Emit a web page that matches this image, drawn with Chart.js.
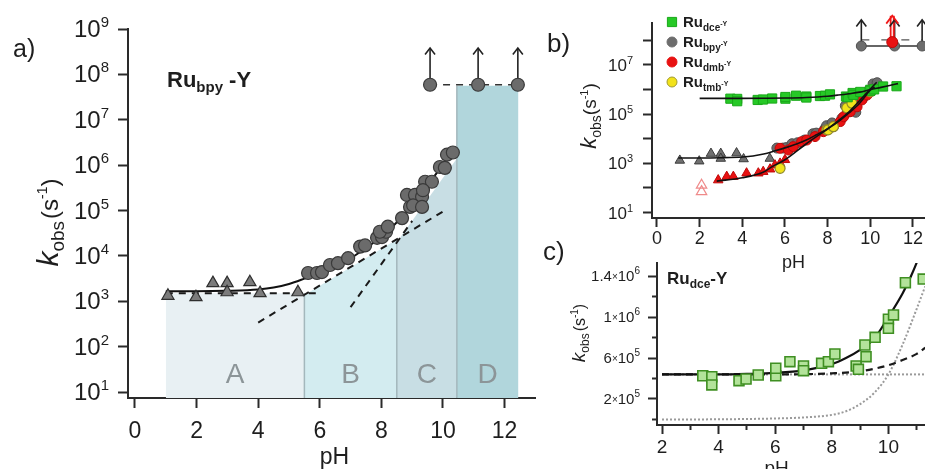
<!DOCTYPE html>
<html>
<head>
<meta charset="utf-8">
<script src="https://cdn.jsdelivr.net/npm/chart.js@4.4.1/dist/chart.umd.min.js"></script>
<style>
  html, body { margin: 0; padding: 0; background: #fff; overflow: hidden; }
  #wrap { position: relative; width: 925px; height: 469px; }
  canvas { position: absolute; left: 0; top: 0; }
</style>
</head>
<body>
<div id="wrap">
  <canvas id="pa" width="925" height="469"></canvas>
  <canvas id="pb" width="925" height="469"></canvas>
  <canvas id="pc" width="925" height="469"></canvas>
</div>
<script>
// ---------- Ru(bpy)-Y : rate constants vs pH ----------
const bpyTriPH  = [1.07, 1.98, 2.53, 2.99, 2.99, 3.73, 4.06, 5.29];
const bpyTriK   = [1.32e3, 1.23e3, 2.51e3, 2.51e3, 1.58e3, 2.63e3, 1.51e3, 1.58e3];
const bpyCircPH = [5.62, 5.91, 6.07, 6.33, 6.59, 6.92, 7.31, 7.47, 7.86, 8.02, 8.15, 7.95, 8.21, 8.67,
                   8.93, 8.83, 9.09, 9.32, 9.03, 9.32, 9.42, 9.64, 9.35, 9.90, 10.06, 10.13, 10.32];
const bpyCircK  = [4.2e3, 4.2e3, 4.4e3, 6.3e3, 6.9e3, 8.9e3, 1.6e4, 1.7e4, 2.5e4, 2.6e4, 3.4e4, 3.4e4, 4.4e4, 6.8e4,
                   1.2e5, 2.2e5, 2.2e5, 2.0e5, 1.3e5, 1.2e5, 4.3e5, 4.3e5, 2.8e5, 9.1e5, 8.7e5, 1.7e6, 1.9e6];
// lower limits (k larger than this value)
const bpyLimitPH = [9.58, 11.14, 12.43];
const bpyLimitK  = 5.9e7;
const arrowTopA  = 3.8e8;
const arrowTopB  = 6.8e8;
// kinetic model for Ru(bpy)-Y
const bpyFitPH = [1.0, 2, 3, 4, 4.5, 5, 5.5, 6, 6.5, 7, 7.5, 8, 8.5, 9, 9.5, 10, 10.3];
const bpyFitK  = [1.66e3, 1.66e3, 1.70e3, 1.82e3, 2.0e3, 2.4e3, 3.16e3, 4.27e3, 6.0e3, 8.9e3, 1.5e4, 2.6e4,
                  5.5e4, 1.26e5, 3.55e5, 1.05e6, 2.0e6];
// limiting pathways (dashed)
const flatPH = [1.0, 6.0],  flatK = [1.5e3, 1.5e3];
const slowPH = [4.0, 10.0], slowK = [3.4e2, 9.5e4];
const fastPH = [7.0, 9.0],  fastK = [7.4e2, 5.9e4];
// pH regions A-D
const regionNames   = ['A', 'B', 'C', 'D'];
const regionEdgesPH = [1.0, 5.5, 8.5, 10.45, 12.45];
const regionTopK    = [[1.5e3, 1.5e3], [1.38e3, 2.3e4], [2.0e4, 1.4e6], [5.6e7, 5.6e7]];

// ---------- Ru(dmb)-Y ----------
const dmbTriPH  = [2.87, 3.27, 3.58, 4.20, 4.75, 4.98, 5.30, 5.53, 5.77, 6.0];
const dmbTriK   = [2.1e2, 2.9e2, 2.9e2, 4.0e2, 4.0e2, 4.6e2, 5.8e2, 8.5e2, 1.0e3, 1.4e3];
const dmbCircPH = [5.77, 6.16, 6.39, 6.78, 7.02, 7.41, 7.80, 8.27, 8.59, 8.75, 9.06, 9.38, 9.61, 9.85, 10.0];
const dmbCircK  = [4.1e3, 3.5e3, 4.8e3, 7.6e3, 8.9e3, 1.23e4, 1.95e4, 3.1e4, 5.0e4, 7.9e4, 1.26e5, 2.0e5,
                   3.8e5, 6.0e5, 9.5e5];
const dmbOpenPH = [2.09, 2.09];
const dmbOpenK  = [1.3e2, 7.1e1];
const dmbFitPH  = [2.8, 4, 5, 5.4, 6, 7, 8, 8.6, 9, 9.5, 10, 10.2];
const dmbFitK   = [1.9e2, 2.6e2, 4.5e2, 7.4e2, 1.4e3, 6.3e3, 2.5e4, 5.8e4, 1.12e5, 2.8e5, 9.5e5, 1.3e6];
const dmbLimitPH = [11.03];
const dmbLimitK  = [8.5e7];
const dmbLimitTopK = 1.0e9;

// ---------- Ru(tmb)-Y ----------
const tmbPH = [5.77, 7.96, 8.02, 8.27, 8.9, 9.14, 10.0];
const tmbK  = [6.3e2, 2.3e4, 2.3e4, 3.1e4, 1.8e5, 2.8e5, 8.1e5];

// ---------- Ru(dce)-Y ----------
const dcePH = [3.44, 3.76, 3.76, 4.72, 4.97, 5.40, 6.02, 6.02, 6.52, 7.0, 7.0, 7.64, 7.88, 8.11,
               8.86, 8.94, 9.17, 9.21, 9.53, 10.0, 10.0, 10.18, 10.6, 11.23];
const dceK  = [4.27e5, 4.18e5, 3.37e5, 3.79e5, 3.95e5, 4.34e5, 4.27e5, 5.0e5, 5.64e5, 5.22e5, 4.76e5, 5.48e5,
               5.64e5, 6.39e5, 5.22e5, 4.90e5, 7.27e5, 6.13e5, 8.02e5, 9.78e5, 8.9e5, 10.2e5, 13.35e5, 13.7e5];
const dceFitPH = [2, 4, 5, 6, 7, 8, 8.5, 9, 9.5, 10, 10.5, 10.8, 11.0, 11.3];
const dceFitK  = [4.4e5, 4.4e5, 4.45e5, 4.55e5, 4.8e5, 5.4e5, 6.0e5, 6.8e5, 7.9e5, 10.0e5, 12.3e5, 14.0e5, 15.3e5, 17.5e5];
const dceDashPH = [2, 6, 7, 8, 9, 9.5, 10, 10.5, 11, 11.3];
const dceDashK  = [4.4e5, 4.4e5, 4.42e5, 4.5e5, 4.7e5, 4.95e5, 5.3e5, 5.8e5, 6.4e5, 7.0e5];
const dceFlatPH = [2, 11.3];
const dceFlatK  = [4.4e5, 4.4e5];
const dceRisePH = [2, 4, 6, 7, 8, 8.5, 9, 9.5, 10, 10.5, 11, 11.3];
const dceRiseK  = [0, 0.02e5, 0.1e5, 0.2e5, 0.45e5, 0.8e5, 1.5e5, 2.6e5, 4.4e5, 7.3e5, 10.8e5, 13e5];

// ---------- axis ticks ----------
const aXTicks = [0, 2, 4, 6, 8, 10, 12];
const aYTicks = [1e1, 1e2, 1e3, 1e4, 1e5, 1e6, 1e7, 1e8, 1e9];
const bXTicks = [0, 2, 4, 6, 8, 10, 12];
const bYTicks = [1e1, 1e2, 1e3, 1e4, 1e5, 1e6, 1e7, 1e8];
const bYLabelled = [1e1, 1e3, 1e5, 1e7];
const cXMajor = [2, 4, 6, 8, 10];
const cXMinor = [3, 5, 7, 9, 11];
const cYMajor = [2e5, 6e5, 1e6, 1.4e6];
const cYMinor = [0, 4e5, 8e5, 1.2e6];

// ---------- helpers ----------
const FONT = '"Liberation Sans", Arial, Helvetica, sans-serif';
const AXIS = '#2a2a2a';
const TEXT = '#1e1e1e';

function pts(xs, ys) { return xs.map((x, i) => ({ x, y: Array.isArray(ys) ? ys[i] : ys })); }
function P(t, size, o) { return Object.assign({ t, size }, o || {}); }
function fontStr(p) { return (p.italic ? 'italic ' : '') + (p.bold ? 'bold ' : '') + p.size + 'px ' + FONT; }

function drawRich(ctx, x, y, parts, align, angle, color) {
  ctx.save();
  ctx.translate(x, y);
  if (angle) ctx.rotate(angle);
  ctx.textBaseline = 'alphabetic';
  ctx.textAlign = 'left';
  let total = 0;
  const widths = parts.map(p => {
    ctx.font = fontStr(p);
    const w = ctx.measureText(p.t).width + (p.gap || 0);
    total += w;
    return w;
  });
  let cx = align === 'right' ? -total : (align === 'center' ? -total / 2 : 0);
  parts.forEach((p, i) => {
    ctx.font = fontStr(p);
    ctx.fillStyle = p.color || color || TEXT;
    ctx.fillText(p.t, cx, p.dy || 0);
    cx += widths[i];
  });
  ctx.restore();
}

function axis(type, position, min, max, tickVals, tickLen, showBorder) {
  const horizontal = position === 'bottom';
  return {
    type, position, min, max,
    axis: horizontal ? 'x' : 'y',
    afterBuildTicks: s => { s.ticks = tickVals.map(v => ({ value: v })); },
    afterFit: s => { if (horizontal) s.height = 0; else s.width = 0; },
    ticks: { display: false },
    border: { display: showBorder !== false, color: AXIS, width: 2 },
    grid: { display: true, drawOnChartArea: false, drawTicks: true, tickLength: tickLen,
            tickColor: AXIS, tickWidth: 2 }
  };
}

// arrow heads on the last point of datasets flagged with arrowHead
const arrowHeads = {
  id: 'arrowHeads',
  afterDatasetsDraw(chart) {
    const ctx = chart.ctx;
    chart.data.datasets.forEach((ds, i) => {
      if (!ds.arrowHead) return;
      const meta = chart.getDatasetMeta(i);
      const p = meta.data[meta.data.length - 1];
      const w = ds.arrowSize || 5;
      ctx.save();
      ctx.strokeStyle = ds.arrowHead;
      ctx.lineWidth = ds.arrowWidth || 1.6;
      ctx.beginPath();
      ctx.moveTo(p.x - w, p.y + w * 1.3);
      ctx.lineTo(p.x, p.y);
      ctx.lineTo(p.x + w, p.y + w * 1.3);
      ctx.stroke();
      ctx.restore();
    });
  }
};

const baseOpts = (padding, scales) => ({
  responsive: false,
  animation: false,
  devicePixelRatio: 1,
  events: [],
  layout: { padding, autoPadding: false },
  plugins: { legend: { display: false }, tooltip: { enabled: false } },
  scales
});

function lineDS(xs, ys, color, width, dash, order, extra) {
  return Object.assign({
    data: pts(xs, ys), showLine: true, borderColor: color, borderWidth: width,
    borderDash: dash || [], pointRadius: 0, fill: false, order, tension: 0
  }, extra || {});
}
function markDS(xs, ys, style, r, bg, border, bw, order) {
  return {
    data: pts(xs, ys), showLine: false, pointStyle: style, pointRadius: r,
    pointBackgroundColor: bg, pointBorderColor: border, pointBorderWidth: bw, order
  };
}

// ================= panel a =================
const A_YMIN = 7.38;
const regionFill = ['#e8f0f3', '#d3ecf0', '#c8dee4', '#b1d6dc'];
const aDatasets = [];
regionNames.forEach((n, i) => {
  aDatasets.push({
    data: [{ x: regionEdgesPH[i], y: regionTopK[i][0] }, { x: regionEdgesPH[i + 1], y: regionTopK[i][1] }],
    showLine: true, fill: 'start', backgroundColor: regionFill[i], borderWidth: 0, pointRadius: 0, order: 30
  });
});
[1, 2, 3].forEach(i => {
  const top = Math.max(regionTopK[i - 1][1], regionTopK[i][0]);
  aDatasets.push(lineDS([regionEdgesPH[i], regionEdgesPH[i]], [A_YMIN, top], '#a3b7bc', 1.5, [], 25));
});
aDatasets.push(lineDS(flatPH, flatK, '#1a1a1a', 2, [7, 6], 10));
aDatasets.push(lineDS(slowPH, slowK, '#1a1a1a', 2, [7, 6], 10));
aDatasets.push(lineDS(fastPH, fastK, '#1a1a1a', 2, [7, 6], 10));
aDatasets.push(lineDS(bpyFitPH, bpyFitK, '#111', 2, [], 8, { cubicInterpolationMode: 'monotone' }));
bpyLimitPH.forEach(x => {
  aDatasets.push(lineDS([x, x], [bpyLimitK, arrowTopA], '#222', 1.6, [], 6, { arrowHead: '#222', clip: false }));
});
aDatasets.push({
  data: pts(bpyLimitPH, bpyLimitK), showLine: true, borderColor: '#333', borderWidth: 1.6, borderDash: [7, 6],
  pointStyle: 'circle', pointRadius: 6.5, pointBackgroundColor: '#6b6b6b', pointBorderColor: '#3a3a3a',
  pointBorderWidth: 1.2, order: 3
});
aDatasets.push(markDS(bpyTriPH, bpyTriK, 'triangle', 7, '#7b7b7b', '#2f2f2f', 1.2, 2));
aDatasets.push(markDS(bpyCircPH, bpyCircK, 'circle', 6.5, '#6b6b6b', '#3a3a3a', 1.2, 2));

const panelAText = {
  id: 'panelAText',
  afterDraw(chart) {
    const { ctx, chartArea: ca, scales: { x, y } } = chart;
    aYTicks.forEach(v => {
      const py = y.getPixelForValue(v);
      drawRich(ctx, ca.left - 19, py + 8, [P('10', 24), P(String(Math.round(Math.log10(v))), 15, { dy: -10 })], 'right');
    });
    aXTicks.forEach(v => drawRich(ctx, x.getPixelForValue(v), ca.bottom + 40, [P(String(v), 23)], 'center'));
    drawRich(ctx, (ca.left + ca.right) / 2 + 3, ca.bottom + 66, [P('pH', 23)], 'center');
    drawRich(ctx, 58, (ca.top + ca.bottom) / 2 + 9,
      [P('k', 30, { italic: true }), P('obs', 19, { dy: 6, gap: 2 }), P('(s', 24), P('-1', 14, { dy: -11 }), P(')', 24)],
      'center', -Math.PI / 2);
    drawRich(ctx, 13, 57, [P('a)', 25)], 'left');
    drawRich(ctx, ca.left + 39, 87, [P('Ru', 22, { bold: true }), P('bpy', 15, { bold: true, dy: 5 }), P(' -Y', 22, { bold: true })], 'left');
    regionNames.forEach((n, i) => {
      const cx = x.getPixelForValue((regionEdgesPH[i] + regionEdgesPH[i + 1]) / 2);
      drawRich(ctx, cx, ca.bottom - 15, [P(n, 28)], 'center', 0, '#8c9598');
    });
  }
};

new Chart(document.getElementById('pa'), {
  type: 'scatter',
  data: { datasets: aDatasets },
  options: baseOpts({ left: 128, top: 29, right: 390, bottom: 71 }, {
    x: axis('linear', 'bottom', -0.227, 12.987, aXTicks, 10),
    y: axis('logarithmic', 'left', A_YMIN, 1e9, aYTicks, 10)
  }),
  plugins: [arrowHeads, panelAText]
});

// ================= panel b =================
const bDatasets = [];
bDatasets.push(lineDS(dceFitPH, dceFitK, '#111', 1.6, [], 1, { cubicInterpolationMode: 'monotone' }));
bDatasets.push(lineDS(bpyFitPH, bpyFitK, '#111', 1.6, [], 1, { cubicInterpolationMode: 'monotone' }));
bDatasets.push(lineDS(dmbFitPH, dmbFitK, '#111', 1.6, [], 1, { cubicInterpolationMode: 'monotone' }));
bDatasets.push(markDS(dcePH, dceK, 'rect', 6.5, '#26c926', '#1aa81a', 1, 2));
bDatasets.push(markDS(tmbPH, tmbK, 'circle', 5, '#f2e21a', '#8f8a2a', 1.2, 3));
bDatasets.push(markDS(dmbCircPH, dmbCircK, 'circle', 5, '#e81212', '#c00808', 1, 4));
bDatasets.push(markDS(dmbTriPH, dmbTriK, 'triangle', 5.5, '#e81212', '#c00808', 1, 4));
bDatasets.push(markDS(dmbOpenPH, dmbOpenK, 'triangle', 6, 'rgba(255,255,255,0)', '#ef8a8a', 1.2, 4));
bDatasets.push(markDS(bpyCircPH, bpyCircK, 'circle', 5, '#6d6d6d', '#4e4e4e', 1, 5));
bDatasets.push(markDS(bpyTriPH, bpyTriK, 'triangle', 5.5, '#707070', '#3c3c3c', 1, 5));
// lower limits at high pH
bDatasets.push(lineDS([bpyLimitPH[0], bpyLimitPH[2]], [1.05e8, 1.05e8], '#555', 1.4, [8, 12], 9));
bpyLimitPH.forEach(x => {
  bDatasets.push(lineDS([x, x], [bpyLimitK, arrowTopB], '#222', 1.6, [], 8, { arrowHead: '#222', clip: false }));
});
bDatasets.push({
  data: pts(bpyLimitPH, bpyLimitK), showLine: true, borderColor: '#333', borderWidth: 1.6,
  pointStyle: 'circle', pointRadius: 5, pointBackgroundColor: '#6d6d6d', pointBorderColor: '#4e4e4e',
  pointBorderWidth: 1, order: 7, clip: false
});
bDatasets.push(lineDS([dmbLimitPH[0], dmbLimitPH[0]], [dmbLimitK[0], dmbLimitTopK], '#f01818', 5, [], 6,
  { arrowHead: '#f01818', arrowSize: 6, arrowWidth: 1.8, clip: false }));
bDatasets.push(lineDS([dmbLimitPH[0], dmbLimitPH[0]], [dmbLimitK[0], dmbLimitTopK], '#ffd6d6', 1.6, [], 5.5, { clip: false }));
bDatasets.push(markDS(dmbLimitPH, dmbLimitK, 'circle', 5.5, '#e81212', '#c00808', 1, 5));

const legendRows = [
  { name: 'dce', style: 'rect', r: 6.5, bg: '#26c926', bd: '#1aa81a' },
  { name: 'bpy', style: 'circle', r: 5, bg: '#6d6d6d', bd: '#6d6d6d' },
  { name: 'dmb', style: 'circle', r: 5, bg: '#e81212', bd: '#e81212' },
  { name: 'tmb', style: 'circle', r: 5, bg: '#f2e21a', bd: '#a09a30' }
];

const panelBText = {
  id: 'panelBText',
  afterDraw(chart) {
    const { ctx, chartArea: ca, scales: { x, y } } = chart;
    bYLabelled.forEach(v => {
      const py = y.getPixelForValue(v);
      drawRich(ctx, ca.left - 19, py + 6, [P('10', 17), P(String(Math.round(Math.log10(v))), 11, { dy: -7 })], 'right');
    });
    bXTicks.forEach(v => drawRich(ctx, x.getPixelForValue(v), ca.bottom + 26, [P(String(v), 18)], 'center'));
    drawRich(ctx, x.getPixelForValue(6.4), ca.bottom + 50, [P('pH', 18)], 'center');
    drawRich(ctx, 596, 116,
      [P('k', 22, { italic: true }), P('obs', 14, { dy: 5 }), P('(s', 19), P('-1', 11, { dy: -8 }), P(')', 19)],
      'center', -Math.PI / 2);
    drawRich(ctx, 547, 52, [P('b)', 26)], 'left');
    legendRows.forEach((row, i) => {
      const cy = 22 + i * 20;
      ctx.save();
      ctx.fillStyle = row.bg;
      ctx.strokeStyle = row.bd;
      ctx.lineWidth = 1;
      Chart.helpers.drawPoint(ctx, { pointStyle: row.style, radius: row.r, borderWidth: 1, rotation: 0 }, 672, cy);
      ctx.restore();
      drawRich(ctx, 683, cy + 5, [P('Ru', 15, { bold: true }), P(row.name, 10, { bold: true, dy: 4 }), P('-Y', 7, { bold: true, dy: -1 })], 'left');
    });
  }
};

new Chart(document.getElementById('pb'), {
  type: 'scatter',
  data: { datasets: bDatasets },
  options: baseOpts({ left: 652, top: 23, right: 0, bottom: 251 }, {
    x: axis('linear', 'bottom', -0.234, 12.565, bXTicks, 9),
    y: axis('logarithmic', 'left', 6.03, 5.09e8, bYTicks, 9)
  }),
  plugins: [arrowHeads, panelBText]
});

// ================= panel c =================
const cDatasets = [
  lineDS(dceRisePH, dceRiseK, '#9a9a9a', 2, [2, 2], 6, { cubicInterpolationMode: 'monotone' }),
  lineDS(dceFlatPH, dceFlatK, '#9a9a9a', 2, [2, 2], 6),
  lineDS(dceDashPH, dceDashK, '#1a1a1a', 2.2, [7, 5], 4, { cubicInterpolationMode: 'monotone' }),
  lineDS(dceFitPH, dceFitK, '#111', 2.2, [], 3, { cubicInterpolationMode: 'monotone' }),
  markDS(dcePH, dceK, 'rect', 7, '#b3e39a', '#3f8f22', 1.6, 1)
];

function sci(v) {
  if (v === 0) return ['0', null];
  const e = Math.floor(Math.log10(v) + 1e-9);
  return [String(+(v / Math.pow(10, e)).toFixed(2)), String(e)];
}

const panelCText = {
  id: 'panelCText',
  afterDraw(chart) {
    const { ctx, chartArea: ca, scales: { x, y } } = chart;
    cYMajor.forEach(v => {
      const py = y.getPixelForValue(v);
      const [m, e] = sci(v);
      drawRich(ctx, ca.left - 17, py + 5,
        [P(m, 15), P('\u00d7', 10, { dy: -1 }), P('10', 15), P(e, 10, { dy: -7 })], 'right');
    });
    cXMajor.forEach(v => drawRich(ctx, x.getPixelForValue(v), ca.bottom + 28, [P(String(v), 19)], 'center'));
    drawRich(ctx, x.getPixelForValue(6.05), ca.bottom + 49, [P('pH', 19)], 'center');
    drawRich(ctx, 585, 333,
      [P('k', 19, { italic: true }), P('obs', 12, { dy: 4, gap: 2 }), P('(s', 16), P('-1', 10, { dy: -7 }), P(')', 16)],
      'center', -Math.PI / 2);
    drawRich(ctx, 543, 260, [P('c)', 26)], 'left');
    drawRich(ctx, ca.left + 10, 284, [P('Ru', 17, { bold: true }), P('dce', 12, { bold: true, dy: 4 }), P('-Y', 17, { bold: true })], 'left');
  }
};

new Chart(document.getElementById('pc'), {
  type: 'scatter',
  data: { datasets: cDatasets },
  options: baseOpts({ left: 657, top: 263, right: 0, bottom: 44 }, {
    x: axis('linear', 'bottom', 1.823, 11.293, cXMajor, 9),
    xMinor: axis('linear', 'bottom', 1.823, 11.293, cXMinor, 5, false),
    y: axis('linear', 'left', -0.537e5, 15.27e5, cYMajor, 9),
    yMinor: axis('linear', 'left', -0.537e5, 15.27e5, cYMinor, 5, false)
  }),
  plugins: [panelCText]
});
</script>
</body>
</html>
